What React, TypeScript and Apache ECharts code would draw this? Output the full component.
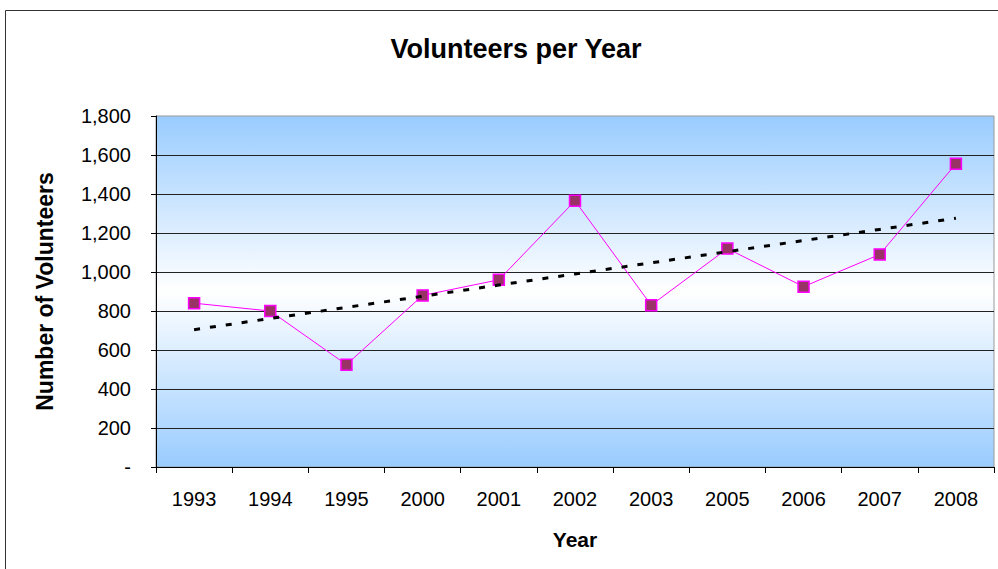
import React, { useEffect, useRef } from "react";
import * as echarts from "echarts";

const years = ["1993", "1994", "1995", "2000", "2001", "2002", "2003", "2005", "2006", "2007", "2008"];
const volunteers = [840, 800, 525, 880, 960, 1365, 830, 1120, 925, 1090, 1555];
const yTicks = { min: 0, max: 1800, interval: 200 };

function linearTrend(values: number[]): number[] {
  const n = values.length;
  const xs = values.map((_, i) => i + 1);
  const mx = xs.reduce((a, b) => a + b, 0) / n;
  const my = values.reduce((a, b) => a + b, 0) / n;
  let num = 0;
  let den = 0;
  xs.forEach((x, i) => {
    num += (x - mx) * (values[i] - my);
    den += (x - mx) * (x - mx);
  });
  const slope = num / den;
  const icpt = my - slope * mx;
  return xs.map((x) => Math.round((icpt + slope * x) * 10) / 10);
}

export default function App() {
  const ref = useRef<HTMLDivElement>(null);
  useEffect(() => {
    if (!ref.current) return;
    const chart = echarts.init(ref.current, null, { renderer: "svg" });
    const font = "Liberation Sans, Arial, sans-serif";
    const trend = linearTrend(volunteers);
    chart.setOption({
      animation: false,
      backgroundColor: "#ffffff",
      textStyle: { fontFamily: font },
      title: {
        text: "Volunteers per Year",
        left: 511,
        top: 30,
        textAlign: "center",
        textStyle: { fontFamily: font, fontSize: 27, fontWeight: "bold", color: "#000" },
      },
      graphic: [
        {
          type: "rect",
          shape: { x: 5.5, y: 10.5, width: 1100, height: 700 },
          style: { fill: "none", stroke: "#333", lineWidth: 1 },
          silent: true,
          z: -10,
        },
      ],
      grid: {
        left: 156,
        top: 116,
        right: 4,
        bottom: 102,
        show: true,
        borderColor: "#999",
        borderWidth: 1,
        backgroundColor: new echarts.graphic.LinearGradient(0, 0, 0, 1, [
          { offset: 0, color: "#99CCFF" },
          { offset: 0.5, color: "#FFFFFF" },
          { offset: 1, color: "#99CCFF" },
        ]),
      },
      xAxis: {
        type: "category",
        data: years,
        boundaryGap: true,
        name: "Year",
        nameLocation: "middle",
        nameGap: 62,
        nameTextStyle: { fontFamily: font, fontSize: 21, fontWeight: "bold", color: "#000" },
        axisLine: { lineStyle: { color: "#000", width: 1 } },
        axisTick: { show: true, length: 6, alignWithLabel: false, lineStyle: { color: "#000" } },
        axisLabel: { margin: 22, fontSize: 20, color: "#000", fontFamily: font },
        splitLine: { show: false },
      },
      yAxis: {
        type: "value",
        min: yTicks.min,
        max: yTicks.max,
        interval: yTicks.interval,
        name: "Number of Volunteers",
        nameLocation: "middle",
        nameGap: 100,
        nameRotate: 90,
        nameTextStyle: { fontFamily: font, fontSize: 23, fontWeight: "bold", color: "#000" },
        axisLine: { show: true, lineStyle: { color: "#000", width: 1 } },
        axisTick: { show: true, length: 5, lineStyle: { color: "#000" } },
        axisLabel: {
          margin: 25,
          fontSize: 20,
          color: "#000",
          fontFamily: font,
          formatter: (v: number) => (v === 0 ? "-" : v.toLocaleString("en-US")),
        },
        splitLine: { show: true, showMaxLine: false, lineStyle: { color: "#222", width: 1 } },
      },
      series: [
        {
          name: "Volunteers",
          type: "line",
          data: volunteers,
          symbol: "rect",
          symbolSize: 11,
          itemStyle: { color: "#993366", borderColor: "#FF00FF", borderWidth: 1.5 },
          lineStyle: { color: "#FF00FF", width: 1 },
          z: 3,
        },
        {
          name: "Trend",
          type: "line",
          data: trend,
          symbol: "none",
          lineStyle: { color: "#000", width: 3, type: [6, 10] },
          z: 4,
        },
      ],
    });
    return () => chart.dispose();
  }, []);
  return (
    <div
      ref={ref}
      style={{ position: "absolute", left: 0, top: 0, width: 998, height: 569 }}
    />
  );
}
